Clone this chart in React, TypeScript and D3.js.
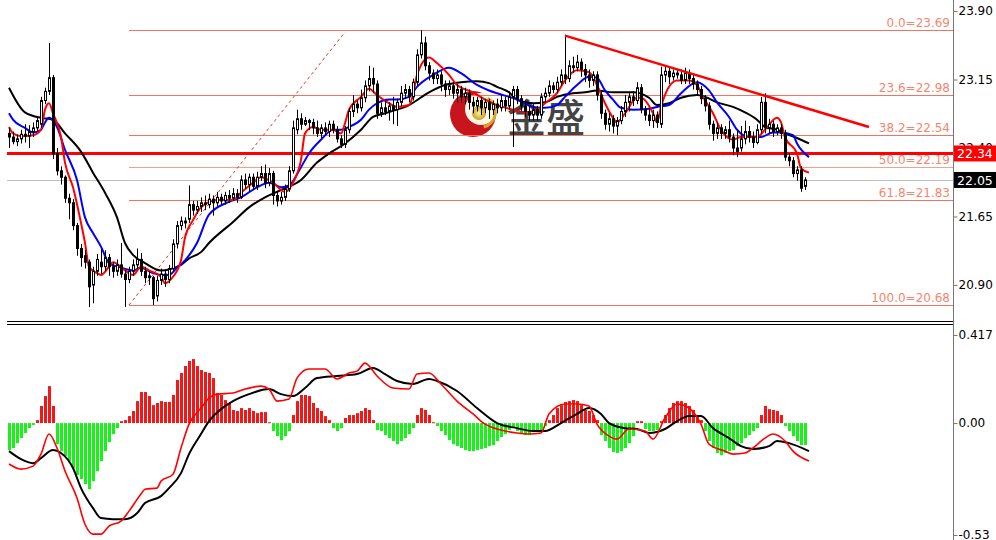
import { useEffect, useRef } from "react";
import * as d3 from "d3";

// candles, one per bar (index 0..199)
const opens = [
  22.56, 22.52, 22.47, 22.5, 22.55, 22.53, 22.58, 22.62, 22.66, 22.92,
  23.02, 23.17, 22.34, 22.15, 22.08, 21.85, 21.8, 21.55, 21.3, 21.22,
  21.15, 20.9, 21.05, 21.15, 21.1, 21.2, 21.1, 21.05, 21.12, 21.02,
  20.96, 21.05, 21.12, 21.18, 21.05, 21.0, 20.98, 20.78, 20.95, 21.02,
  20.96, 21.08, 21.35, 21.55, 21.6, 21.62, 21.78, 21.72, 21.76, 21.8,
  21.78, 21.84, 21.8, 21.86, 21.82, 21.88, 21.85, 21.9, 21.86, 22.05,
  22.0, 22.08, 21.98, 22.08, 22.12, 22.02, 22.12, 21.88, 21.82, 21.86,
  21.95, 22.15, 22.6, 22.72, 22.66, 22.7, 22.68, 22.62, 22.56, 22.62,
  22.58, 22.66, 22.6, 22.5, 22.44, 22.6, 22.8, 22.88, 22.84, 22.95,
  23.08, 23.16, 23.1, 22.78, 22.84, 22.8, 22.86, 22.82, 22.9, 23.0,
  23.04, 22.96, 23.12, 23.42, 23.55, 23.3, 23.22, 23.16, 23.2, 23.1,
  23.04, 23.08, 23.0, 23.04, 22.96, 23.0, 22.9, 22.86, 22.92, 22.84,
  22.9, 22.82, 22.88, 22.84, 22.92, 22.86, 22.96, 23.04, 22.94, 22.86,
  22.8, 22.76, 22.82, 22.76, 22.96, 23.0, 23.08, 23.04, 23.12, 23.2,
  23.16, 23.3, 23.28, 23.34, 23.26, 23.2, 23.14, 23.2, 22.98, 22.78,
  22.66, 22.72, 22.64, 22.7, 22.8, 22.9, 22.96, 22.92, 23.06, 22.82,
  22.76, 22.7, 22.76, 22.66, 23.2, 23.24, 23.18, 23.22, 23.2, 23.14,
  23.22, 23.16, 23.1, 23.04, 22.94, 22.86, 22.66, 22.56, 22.62, 22.56,
  22.6, 22.52, 22.4, 22.4, 22.5, 22.58, 22.52, 22.46, 22.6, 22.9,
  22.62, 22.66, 22.58, 22.62, 22.56, 22.3, 22.26, 22.12, 22.16, 21.98,
];
const highs = [
  22.62, 22.58, 22.55, 22.6, 22.66, 22.65, 22.68, 22.74, 22.96, 23.06,
  23.55, 23.2, 22.4, 22.2, 22.1, 21.9, 21.84, 21.58, 21.35, 21.28,
  21.18, 21.1, 21.24, 21.3, 21.28, 21.24, 21.15, 21.18, 21.36, 21.06,
  21.1, 21.18, 21.3, 21.25, 21.1, 21.05, 21.0, 21.0, 21.08, 21.06,
  21.12, 21.4, 21.6, 21.65, 21.64, 21.99, 21.82, 21.82, 21.86, 21.88,
  21.9, 21.88, 21.92, 21.9, 21.92, 21.94, 21.96, 21.95, 22.1, 22.12,
  22.12, 22.12, 22.14, 22.2, 22.22, 22.18, 22.15, 21.92, 21.92, 22.0,
  22.2, 22.7, 22.82, 22.78, 22.74, 22.72, 22.72, 22.7, 22.66, 22.68,
  22.7, 22.7, 22.64, 22.54, 22.64, 22.84, 22.98, 22.92, 23.04, 23.14,
  23.3, 23.28, 23.14, 22.9, 22.92, 22.9, 22.96, 22.94, 23.08, 23.1,
  23.08, 23.16, 23.48, 23.69, 23.62, 23.34, 23.26, 23.26, 23.24, 23.14,
  23.14, 23.12, 23.1, 23.08, 23.06, 23.04, 22.96, 22.96, 22.96, 22.94,
  22.94, 22.92, 22.94, 22.98, 22.96, 23.02, 23.08, 23.08, 22.98, 22.92,
  22.86, 22.88, 22.86, 23.0, 23.06, 23.14, 23.12, 23.18, 23.26, 23.64,
  23.36, 23.4, 23.42, 23.38, 23.32, 23.26, 23.24, 23.24, 23.02, 22.82,
  22.78, 22.76, 22.74, 22.86, 22.98, 23.0, 23.02, 23.12, 23.1, 22.86,
  22.84, 22.82, 22.8, 23.29, 23.3, 23.28, 23.26, 23.26, 23.26, 23.28,
  23.26, 23.2, 23.14, 23.08, 22.98, 22.9, 22.7, 22.68, 22.66, 22.64,
  22.7, 22.56, 22.6, 22.64, 22.7, 22.64, 22.58, 22.66, 22.96, 23.0,
  22.72, 22.7, 22.66, 22.66, 22.6, 22.34, 22.3, 22.2, 22.2, 22.08,
];
const lows = [
  22.4, 22.44, 22.42, 22.45, 22.46, 22.4, 22.52, 22.58, 22.62, 22.88,
  22.98, 22.28, 22.1, 22.0, 21.8, 21.62, 21.5, 21.22, 21.1, 21.08,
  20.66, 20.7, 21.0, 21.02, 21.05, 21.0, 20.98, 21.0, 20.98, 20.66,
  20.92, 21.0, 21.08, 21.0, 20.92, 20.9, 20.68, 20.72, 20.9, 20.88,
  20.92, 21.05, 21.3, 21.5, 21.52, 21.58, 21.66, 21.68, 21.7, 21.72,
  21.74, 21.66, 21.76, 21.78, 21.78, 21.8, 21.82, 21.8, 21.84, 21.95,
  21.92, 21.94, 21.94, 22.04, 21.96, 21.98, 21.78, 21.76, 21.78, 21.82,
  21.92, 22.12, 22.55, 22.6, 22.64, 22.6, 22.55, 22.52, 22.5, 22.54,
  22.52, 22.56, 22.46, 22.4, 22.4, 22.56, 22.74, 22.78, 22.8, 22.9,
  23.02, 23.0, 22.72, 22.74, 22.76, 22.7, 22.66, 22.64, 22.86, 22.94,
  22.9, 22.92, 23.08, 23.38, 23.25, 23.14, 23.1, 23.1, 23.02, 22.96,
  22.98, 22.94, 22.9, 22.9, 22.88, 22.82, 22.78, 22.8, 22.76, 22.78,
  22.72, 22.76, 22.78, 22.8, 22.8, 22.82, 22.41, 22.88, 22.8, 22.74,
  22.7, 22.7, 22.7, 22.72, 22.9, 22.96, 23.0, 23.0, 23.08, 23.1,
  23.12, 23.22, 23.24, 23.18, 23.12, 23.06, 23.08, 22.92, 22.72, 22.6,
  22.58, 22.56, 22.54, 22.66, 22.74, 22.8, 22.86, 22.88, 22.78, 22.7,
  22.64, 22.62, 22.62, 22.62, 23.12, 23.1, 23.14, 23.16, 23.1, 23.1,
  23.1, 23.04, 22.98, 22.88, 22.8, 22.6, 22.48, 22.5, 22.5, 22.5,
  22.46, 22.32, 22.3, 22.36, 22.44, 22.46, 22.4, 22.44, 22.56, 22.56,
  22.56, 22.52, 22.54, 22.5, 22.26, 22.2, 22.08, 22.04, 21.92, 21.94,
];
const closes = [
  22.52, 22.47, 22.5, 22.55, 22.53, 22.58, 22.62, 22.7, 22.92, 23.02,
  23.17, 22.34, 22.15, 22.08, 21.85, 21.8, 21.55, 21.3, 21.2, 21.15,
  20.88, 21.05, 21.18, 21.1, 21.2, 21.1, 21.05, 21.12, 21.02, 20.96,
  21.05, 21.12, 21.18, 21.05, 20.98, 20.98, 20.75, 20.95, 21.02, 20.96,
  21.08, 21.35, 21.55, 21.6, 21.58, 21.78, 21.72, 21.76, 21.8, 21.78,
  21.84, 21.8, 21.86, 21.82, 21.88, 21.85, 21.9, 21.86, 22.05, 22.0,
  22.08, 21.98, 22.08, 22.12, 22.02, 22.12, 21.88, 21.82, 21.86, 21.95,
  22.15, 22.62, 22.72, 22.66, 22.7, 22.68, 22.62, 22.56, 22.62, 22.58,
  22.66, 22.6, 22.5, 22.44, 22.6, 22.8, 22.88, 22.84, 22.95, 23.08,
  23.16, 23.1, 22.78, 22.84, 22.8, 22.86, 22.82, 22.9, 23.0, 23.04,
  22.96, 23.12, 23.42, 23.55, 23.3, 23.22, 23.16, 23.2, 23.1, 23.04,
  23.08, 23.0, 23.04, 22.96, 23.0, 22.9, 22.86, 22.92, 22.84, 22.9,
  22.82, 22.88, 22.84, 22.92, 22.86, 22.96, 23.04, 22.94, 22.86, 22.8,
  22.76, 22.82, 22.76, 22.96, 23.0, 23.08, 23.04, 23.12, 23.2, 23.16,
  23.3, 23.28, 23.34, 23.26, 23.2, 23.14, 23.2, 22.98, 22.78, 22.66,
  22.72, 22.64, 22.7, 22.8, 22.9, 22.96, 22.92, 23.06, 22.82, 22.76,
  22.7, 22.76, 22.68, 23.2, 23.24, 23.18, 23.22, 23.2, 23.14, 23.22,
  23.16, 23.1, 23.04, 22.94, 22.86, 22.66, 22.56, 22.62, 22.56, 22.6,
  22.52, 22.4, 22.36, 22.5, 22.58, 22.52, 22.46, 22.6, 22.9, 22.62,
  22.66, 22.58, 22.62, 22.56, 22.3, 22.26, 22.12, 22.16, 21.96, 22.05,
];

// moving averages: [bar index, price]
const maRed: [number, number][] = [
  [0, 22.63], [1, 22.56], [3, 22.53], [6, 22.54], [8, 22.6], [9, 22.82], [10, 22.89],
  [11, 22.78], [13, 22.52], [14, 22.24], [16, 21.97], [18, 21.58], [19, 21.36], [20, 21.1],
  [22, 21.03], [23, 21.01], [25, 21.1], [26, 21.15], [29, 21.06], [31, 21.01], [33, 21.1],
  [35, 21.06], [38, 20.99], [39, 20.92], [41, 20.99], [43, 21.17], [44, 21.42], [46, 21.61],
  [48, 21.75], [52, 21.83], [56, 21.83], [58, 21.91], [61, 22.02], [63, 22.08], [66, 22.02],
  [69, 21.92], [71, 22.02], [73, 22.27], [74, 22.56], [76, 22.63], [78, 22.6], [81, 22.6],
  [83, 22.56], [84, 22.67], [85, 22.82], [88, 22.96], [90, 23.05], [92, 22.98], [95, 22.89],
  [97, 22.85], [100, 22.87], [101, 22.98], [102, 23.2], [105, 23.39], [107, 23.33],
  [110, 23.2], [112, 23.09], [116, 23.01], [119, 22.93], [122, 22.87], [126, 22.82],
  [129, 22.79], [132, 22.82], [134, 22.89], [137, 23.0], [139, 23.14], [142, 23.25],
  [145, 23.23], [147, 23.09], [149, 22.89], [151, 22.73], [152, 22.68], [154, 22.78],
  [157, 22.95], [158, 22.95], [161, 22.78], [162, 22.68], [163, 22.85], [165, 23.07],
  [167, 23.14], [170, 23.14], [172, 23.09], [173, 23.0], [176, 22.78], [178, 22.6],
  [181, 22.49], [183, 22.52], [187, 22.52], [189, 22.6], [192, 22.73], [193, 22.68],
  [194, 22.52], [197, 22.34], [198, 22.18], [200, 22.13],
];
const maBlue: [number, number][] = [
  [0, 22.78], [1, 22.71], [4, 22.62], [6, 22.57], [8, 22.6], [9, 22.68], [10, 22.73],
  [12, 22.63], [14, 22.38], [17, 22.05], [19, 21.64], [21, 21.47], [23, 21.32], [25, 21.14],
  [28, 21.09], [31, 21.06], [33, 21.09], [36, 21.03], [38, 21.01], [40, 21.01], [42, 21.09],
  [44, 21.17], [47, 21.36], [50, 21.67], [55, 21.81], [58, 21.86], [62, 21.97], [65, 22.02],
  [68, 21.97], [70, 21.99], [73, 22.19], [75, 22.34], [78, 22.49], [81, 22.6], [83, 22.6],
  [85, 22.63], [88, 22.71], [90, 22.82], [92, 22.89], [95, 22.93], [97, 22.93], [100, 22.96],
  [102, 23.07], [106, 23.2], [110, 23.28], [113, 23.22], [117, 23.09], [120, 23.03],
  [122, 23.0], [127, 22.93], [131, 22.85], [134, 22.84], [137, 22.87], [139, 22.96],
  [142, 23.09], [145, 23.18], [147, 23.17], [149, 23.03], [151, 22.93], [153, 22.84],
  [156, 22.82], [160, 22.83], [162, 22.85], [165, 22.87], [168, 23.0], [172, 23.12],
  [175, 23.03], [177, 22.9], [180, 22.74], [182, 22.6], [185, 22.52], [188, 22.52],
  [191, 22.57], [193, 22.57], [196, 22.54], [197, 22.45], [200, 22.3],
];
const maBlack: [number, number][] = [
  [0, 23.06], [4, 22.79], [8, 22.73], [11, 22.71], [14, 22.56], [18, 22.36], [21, 22.13],
  [24, 21.91], [27, 21.64], [29, 21.36], [31, 21.23], [34, 21.14], [38, 21.06], [40, 21.07],
  [43, 21.12], [45, 21.19], [48, 21.26], [50, 21.36], [56, 21.59], [60, 21.75], [64, 21.86],
  [68, 21.94], [73, 22.05], [77, 22.24], [80, 22.34], [84, 22.45], [88, 22.6], [91, 22.74],
  [94, 22.78], [97, 22.82], [100, 22.87], [105, 23.01], [109, 23.09], [113, 23.12],
  [117, 23.13], [120, 23.11], [122, 23.07], [125, 23.01], [127, 22.93], [131, 22.89],
  [134, 22.9], [137, 22.96], [141, 23.0], [144, 23.01], [147, 23.03], [151, 23.01],
  [156, 23.01], [160, 22.95], [162, 22.87], [165, 22.89], [168, 22.95], [172, 22.98],
  [174, 22.96], [177, 22.9], [181, 22.85], [184, 22.79], [187, 22.71], [189, 22.63],
  [192, 22.6], [194, 22.56], [197, 22.51], [200, 22.45],
];

// MACD histogram, one per bar
const macdHist = [
  -0.128, -0.118, -0.095, -0.071, -0.047, -0.024, -0.009, 0.014, 0.081, 0.128,
  0.175, 0.081, -0.1, -0.133, -0.156, -0.18, -0.213, -0.246, -0.265, -0.289,
  -0.313, -0.275, -0.228, -0.18, -0.133, -0.09, -0.052, -0.024, 0.009, 0.014,
  0.033, 0.057, 0.104, 0.147, 0.147, 0.128, 0.085, 0.095, 0.104, 0.1,
  0.1, 0.133, 0.204, 0.237, 0.27, 0.294, 0.303, 0.27, 0.251, 0.242,
  0.237, 0.213, 0.142, 0.133, 0.109, 0.095, 0.062, 0.057, 0.071, 0.062,
  0.071, 0.057, 0.047, 0.052, 0.052, 0.004, -0.038, -0.062, -0.081, -0.062,
  -0.038, 0.038, 0.104, 0.133, 0.133, 0.128, 0.095, 0.071, 0.057, 0.033,
  0.014, -0.024, -0.038, -0.024, 0.024, 0.038, 0.038, 0.047, 0.057, 0.071,
  0.062, 0.014, -0.033, -0.038, -0.057, -0.071, -0.085, -0.1, -0.085, -0.071,
  -0.052, -0.024, 0.038, 0.071, 0.062, 0.038, 0.004, -0.014, -0.038, -0.057,
  -0.081, -0.1, -0.109, -0.118, -0.128, -0.133, -0.133, -0.128, -0.123, -0.118,
  -0.109, -0.104, -0.085, -0.066, -0.052, -0.033, -0.019, -0.038, -0.052, -0.057,
  -0.057, -0.043, -0.038, -0.033, -0.014, 0.014, 0.038, 0.071, 0.085, 0.1,
  0.104, 0.109, 0.104, 0.085, 0.062, 0.057, 0.038, 0.014, -0.057, -0.085,
  -0.118, -0.137, -0.142, -0.133, -0.118, -0.095, -0.062, 0.009, 0.009, -0.028,
  -0.038, -0.038, -0.033, 0.009, 0.038, 0.071, 0.095, 0.104, 0.104, 0.095,
  0.081, 0.062, 0.038, 0.014, -0.038, -0.085, -0.118, -0.142, -0.152, -0.142,
  -0.133, -0.128, -0.109, -0.095, -0.071, -0.057, -0.038, -0.024, 0.038, 0.081,
  0.066, 0.062, 0.057, 0.038, -0.014, -0.038, -0.062, -0.085, -0.104, -0.104,
];
const macdDif: [number, number][] = [
  [0, -0.194], [3, -0.218], [6, -0.204], [8, -0.147], [10, -0.052], [12, -0.118],
  [14, -0.227], [17, -0.355], [19, -0.479], [21, -0.526], [23, -0.526], [25, -0.488],
  [28, -0.464], [30, -0.417], [33, -0.336], [34, -0.313], [37, -0.308], [38, -0.275],
  [41, -0.242], [43, -0.118], [45, -0.005], [48, 0.071], [50, 0.118], [52, 0.137],
  [56, 0.142], [59, 0.161], [63, 0.175], [65, 0.161], [67, 0.104], [70, 0.114],
  [72, 0.213], [75, 0.256], [79, 0.256], [82, 0.209], [85, 0.237], [87, 0.246],
  [89, 0.284], [92, 0.223], [96, 0.166], [100, 0.161], [102, 0.232], [105, 0.237],
  [108, 0.185], [112, 0.104], [116, 0.043], [119, -0.005], [122, -0.028], [127, -0.047],
  [130, -0.052], [133, -0.047], [135, 0.043], [139, 0.09], [142, 0.09], [145, 0.081],
  [147, -0.005], [150, -0.062], [152, -0.076], [155, -0.028], [159, -0.038], [161, -0.076],
  [164, 0.024], [167, 0.09], [170, 0.071], [173, -0.005], [175, -0.1], [179, -0.133],
  [181, -0.147], [184, -0.142], [186, -0.118], [189, -0.071], [191, -0.052], [194, -0.085],
  [196, -0.133], [200, -0.18],
];
const macdDea: [number, number][] = [
  [0, -0.133], [3, -0.171], [6, -0.19], [8, -0.166], [11, -0.128], [13, -0.142],
  [16, -0.213], [18, -0.308], [21, -0.403], [23, -0.45], [26, -0.455], [29, -0.455],
  [32, -0.427], [34, -0.379], [38, -0.346], [40, -0.308], [43, -0.237], [45, -0.147],
  [48, -0.052], [50, 0.009], [53, 0.066], [56, 0.104], [60, 0.137], [65, 0.161],
  [68, 0.137], [71, 0.128], [74, 0.166], [77, 0.213], [82, 0.223], [87, 0.232],
  [91, 0.261], [94, 0.232], [97, 0.199], [101, 0.185], [105, 0.209], [107, 0.199],
  [112, 0.152], [117, 0.071], [122, 0.0], [127, -0.024], [131, -0.038], [134, -0.038],
  [138, 0.0], [142, 0.043], [145, 0.071], [148, 0.043], [150, 0.0], [154, -0.024],
  [157, -0.028], [160, -0.047], [164, -0.028], [167, 0.009], [170, 0.033], [173, 0.033],
  [176, -0.024], [180, -0.071], [183, -0.109], [186, -0.123], [190, -0.109], [192, -0.085],
  [195, -0.095], [200, -0.133],
];

// fibonacci retracement
const fibLevels = ["0.0", "23.6", "38.2", "50.0", "61.8", "100.0"];
const fibPrices = [23.69, 22.98, 22.54, 22.19, 21.83, 20.68];
const fibStartBar = 30;

const priceTicks = [23.9, 23.15, 22.4, 21.65, 20.9];
const macdTicks = [0.417, 0, -0.53];
const macdTickLabels = ["0.417", "0.00", "-0.53"];
const markedPrice = 22.34;
const lastPrice = 22.05;
// drawn lines: [bar index, price]
const trendLine: [number, number][] = [[139, 23.63], [215, 22.63]];
const dashLine: [number, number][] = [[30, 20.68], [84, 23.67]];

export default function App() {
  const ref = useRef<SVGSVGElement | null>(null);

  useEffect(() => {
    const W = 996;
    const H = 540;
    const axisX = 953;
    const svg = d3.select(ref.current);
    svg.selectAll("*").remove();

    const x = d3.scaleLinear().domain([0, 199]).range([9, 805]);
    const y = d3.scaleLinear().domain([20.9, 23.9]).range([285, 11]);
    const ym = d3.scaleLinear().domain([-0.53, 0.417]).range([535, 335]);

    // watermark logo
    const logo = svg.append("g");
    const grad = svg.append("defs").append("radialGradient").attr("id", "ball");
    grad.append("stop").attr("offset", "0%").attr("stop-color", "#fbf0a0");
    grad.append("stop").attr("offset", "100%").attr("stop-color", "#c9a020");
    logo.append("circle").attr("cx", 473).attr("cy", 114).attr("r", 23).attr("fill", "#c8141c");
    logo.append("circle").attr("cx", 481).attr("cy", 109).attr("r", 16).attr("fill", "#fdf6e6");
    logo.append("path")
      .attr("d", d3.arc()({ innerRadius: 14, outerRadius: 17, startAngle: 0.5, endAngle: 2.9 }) as string)
      .attr("transform", "translate(480,112)")
      .attr("fill", "#d8a628");
    logo.append("circle").attr("cx", 479).attr("cy", 113).attr("r", 7).attr("fill", "url(#ball)");
    logo.append("text")
      .attr("x", 507).attr("y", 132)
      .attr("font-family", "Noto Sans CJK SC")
      .attr("font-size", 39)
      .attr("font-weight", 500)
      .attr("fill", "#444")
      .text("金盛");

    // fib lines and labels
    fibPrices.forEach((p, k) => {
      svg.append("line")
        .attr("x1", x(fibStartBar)).attr("x2", axisX)
        .attr("y1", Math.round(y(p)) + 0.5).attr("y2", Math.round(y(p)) + 0.5)
        .attr("stroke", k === 3 ? "#f4a08e" : "#ee7560").attr("stroke-width", 1);
      svg.append("text")
        .attr("x", 950).attr("y", Math.round(y(p)) - 3)
        .attr("text-anchor", "end")
        .attr("font-family", "DejaVu Sans").attr("font-size", 12)
        .attr("fill", "#f3866f")
        .text(`${fibLevels[k]}=${p.toFixed(2)}`);
    });

    // last price line
    svg.append("line")
      .attr("x1", 7).attr("x2", axisX)
      .attr("y1", Math.round(y(lastPrice)) + 0.5).attr("y2", Math.round(y(lastPrice)) + 0.5)
      .attr("stroke", "#c0c0c0");

    // dashed helper line
    svg.append("line")
      .attr("x1", x(dashLine[0][0])).attr("y1", y(dashLine[0][1]))
      .attr("x2", x(dashLine[1][0])).attr("y2", y(dashLine[1][1]))
      .attr("stroke", "#e83030").attr("stroke-dasharray", "3,3").attr("stroke-width", 1);

    // marked level
    svg.append("line")
      .attr("x1", 7).attr("x2", axisX)
      .attr("y1", y(markedPrice)).attr("y2", y(markedPrice))
      .attr("stroke", "#ff0000").attr("stroke-width", 3);

    // moving averages
    const line = d3.line<[number, number]>()
      .x((d) => x(d[0]))
      .y((d) => y(d[1]))
      .curve(d3.curveMonotoneX);
    const mas: [[number, number][], string][] = [
      [maBlack, "#000000"],
      [maBlue, "#0000ff"],
      [maRed, "#ff0000"],
    ];
    mas.forEach(([data, color]) => {
      svg.append("path")
        .attr("d", line(data) ?? "")
        .attr("fill", "none")
        .attr("stroke", color)
        .attr("stroke-width", 2);
    });

    // candles
    const candles = svg.append("g");
    closes.forEach((c, i) => {
      const o = opens[i];
      const cx = x(i);
      candles.append("line")
        .attr("x1", cx + 0.5).attr("x2", cx + 0.5)
        .attr("y1", y(highs[i])).attr("y2", y(lows[i]))
        .attr("stroke", "#000").attr("stroke-width", 1);
      const top = y(Math.max(o, c));
      const h = Math.max(1, y(Math.min(o, c)) - top);
      candles.append("rect")
        .attr("x", cx - 0.5).attr("width", 2)
        .attr("y", top).attr("height", h)
        .attr("fill", c >= o ? "#ffffff" : "#000000")
        .attr("stroke", "#000").attr("stroke-width", 1);
    });

    // trend line
    svg.append("line")
      .attr("x1", x(trendLine[0][0])).attr("y1", y(trendLine[0][1]))
      .attr("x2", x(trendLine[1][0])).attr("y2", y(trendLine[1][1]))
      .attr("stroke", "#ff0000").attr("stroke-width", 2.5);

    // panel separator
    [321.5, 324.5].forEach((yy) => {
      svg.append("line")
        .attr("x1", 7).attr("x2", axisX)
        .attr("y1", yy).attr("y2", yy)
        .attr("stroke", "#000");
    });

    // MACD histogram
    svg.append("g")
      .selectAll("rect")
      .data(macdHist)
      .join("rect")
      .attr("x", (_, i) => x(i) - 1)
      .attr("width", 3)
      .attr("y", (d) => Math.min(ym(d), ym(0)))
      .attr("height", (d) => Math.max(1, Math.abs(ym(d) - ym(0))))
      .attr("fill", (d) => (d >= 0 ? "#f21818" : "#19f219"));

    const mline = d3.line<[number, number]>()
      .x((d) => x(d[0]))
      .y((d) => ym(d[1]))
      .curve(d3.curveMonotoneX);
    svg.append("path").attr("d", mline(macdDea) ?? "")
      .attr("fill", "none").attr("stroke", "#000").attr("stroke-width", 2);
    svg.append("path").attr("d", mline(macdDif) ?? "")
      .attr("fill", "none").attr("stroke", "#ff0000").attr("stroke-width", 1.6);

    // right axis
    svg.append("rect").attr("x", axisX + 1).attr("y", 0).attr("width", W - axisX).attr("height", H).attr("fill", "#fff");
    svg.append("line")
      .attr("x1", axisX + 0.5).attr("x2", axisX + 0.5)
      .attr("y1", 0).attr("y2", H)
      .attr("stroke", "#777");

    const pa = svg.append("g")
      .attr("transform", `translate(${axisX + 0.5},0)`)
      .call(d3.axisRight(y).tickValues(priceTicks).tickFormat((d) => (d as number).toFixed(2)).tickSize(4));
    const ma = svg.append("g")
      .attr("transform", `translate(${axisX + 0.5},0)`)
      .call(d3.axisRight(ym).tickValues(macdTicks).tickFormat((_, i) => macdTickLabels[i]).tickSize(4));
    [pa, ma].forEach((g) => {
      g.select(".domain").remove();
      g.selectAll("text")
        .attr("font-family", "DejaVu Sans")
        .attr("font-size", 12)
        .attr("fill", "#000")
        .attr("x", 5);
      g.selectAll("line").attr("stroke", "#777");
    });

    // price boxes
    const boxes: [number, string][] = [
      [markedPrice, "#ff0000"],
      [lastPrice, "#000000"],
    ];
    boxes.forEach(([p, color]) => {
      const cy = y(p);
      svg.append("rect")
        .attr("x", axisX + 1).attr("y", cy - 8)
        .attr("width", W - axisX).attr("height", 16)
        .attr("fill", color);
      svg.append("text")
        .attr("x", axisX + 4).attr("y", cy + 5)
        .attr("font-family", "DejaVu Sans").attr("font-size", 12.5)
        .attr("fill", "#fff")
        .text(p.toFixed(2));
    });
  }, []);

  return (
    <svg
      ref={ref}
      width={996}
      height={540}
      style={{ position: "absolute", left: 0, top: 0, background: "#fff" }}
    />
  );
}
